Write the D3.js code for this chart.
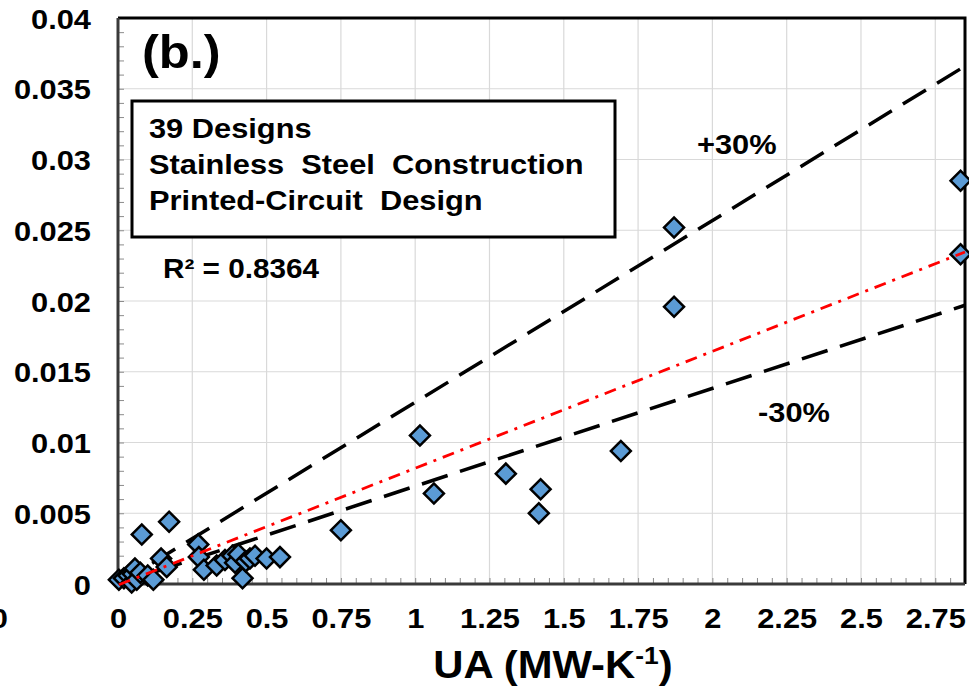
<!DOCTYPE html>
<html>
<head>
<meta charset="utf-8">
<script src="https://cdn.jsdelivr.net/npm/d3@7"></script>
<style>
  body { margin: 0; background: #fff; }
  text { font-family: "Liberation Sans", Arial, sans-serif; font-weight: bold; fill: #000; }
</style>
</head>
<body>
<div id="chart"></div>
<script>
// UA of each design (MW/K) and the y value
const uaValues = [2.835, 2.835, 1.871, 1.871, 1.692, 1.016, 1.063, 1.305, 1.422, 1.416, 0.750,
    0.003, 0.020, 0.035, 0.046, 0.050, 0.057, 0.063, 0.075, 0.080, 0.100, 0.119, 0.145, 0.164, 0.172,
    0.270, 0.272, 0.289, 0.332, 0.360, 0.385, 0.394, 0.405, 0.419, 0.430, 0.444, 0.461, 0.500, 0.545];
const yValues = [0.0285, 0.0233, 0.0252, 0.0196, 0.0094, 0.0105, 0.0064, 0.0078, 0.0067, 0.0050, 0.0038,
    0.0003, 0.0004, 0.0006, 0.0001, 0.0007, 0.0011, 0.0003, 0.0008, 0.0035, 0.0006, 0.0003, 0.0018, 0.0012, 0.0044,
    0.0028, 0.0019, 0.0010, 0.0013, 0.0017, 0.0020, 0.0015, 0.0021, 0.0004, 0.0016, 0.0018, 0.0020, 0.0018, 0.0019];

// reference lines, as [x, y] end points
const plus30 = [[0, 0], [2.85, 0.0366]];
const minus30 = [[0, 0], [2.85, 0.0197]];
const trendLine = [[0.003, -0.00005], [2.85, 0.02346]];

const xTicks = [0, 0.25, 0.5, 0.75, 1, 1.25, 1.5, 1.75, 2, 2.25, 2.5, 2.75];
const xTickLabels = ["0", "0.25", "0.5", "0.75", "1", "1.25", "1.5", "1.75", "2", "2.25", "2.5", "2.75"];
const yTicks = [0, 0.005, 0.01, 0.015, 0.02, 0.025, 0.03, 0.035, 0.04];
const yTickLabels = ["0", "0.005", "0.01", "0.015", "0.02", "0.025", "0.03", "0.035", "0.04"];
const infoLines = ["39 Designs", "Stainless  Steel  Construction", "Printed-Circuit  Design"];

const W = 969, H = 692;
const stretch = "scale(1.1,1)";   // the source text is slightly wide

const svg = d3.select("#chart").append("svg")
    .attr("width", W).attr("height", H);
svg.append("rect").attr("width", W).attr("height", H).attr("fill", "#fff");

const x = d3.scaleLinear().domain([0, 2.85]).range([118, 965]);
const y = d3.scaleLinear().domain([0, 0.04]).range([584, 18]);

// grid
svg.append("g").selectAll("line")
    .data(xTicks.slice(1))
    .enter().append("line")
    .attr("x1", d => x(d)).attr("x2", d => x(d))
    .attr("y1", y(0)).attr("y2", y(0.04))
    .attr("stroke", "#d9d9d9").attr("stroke-width", 1.2);
svg.append("g").selectAll("line")
    .data(yTicks.slice(1))
    .enter().append("line")
    .attr("x1", x(0)).attr("x2", x(2.85))
    .attr("y1", d => y(d)).attr("y2", d => y(d))
    .attr("stroke", "#d9d9d9").attr("stroke-width", 1.2);

// minor ticks, pointing inward
const xMinor = d3.range(0, 2.851, 0.05);
const yMinor = d3.range(0, 0.0401, 0.001);
svg.append("g")
    .attr("transform", `translate(0,${y(0)})`)
    .call(d3.axisBottom(x).tickValues(xMinor).tickSize(-6).tickFormat(""))
    .call(g => g.select(".domain").remove())
    .selectAll("line").attr("stroke", "#8c8c8c");
svg.append("g")
    .attr("transform", `translate(${x(0)},0)`)
    .call(d3.axisLeft(y).tickValues(yMinor).tickSize(-6).tickFormat(""))
    .call(g => g.select(".domain").remove())
    .selectAll("line").attr("stroke", "#8c8c8c");

// tick labels
svg.append("g")
    .attr("transform", `translate(0,${y(0)})`)
    .call(d3.axisBottom(x).tickValues(xTicks).tickSize(0).tickFormat((d, i) => xTickLabels[i]))
    .call(g => g.select(".domain").remove())
    .selectAll("text")
    .attr("y", 0).attr("dy", null)
    .attr("transform", `translate(0,44) ${stretch}`)
    .style("font-size", "28px").style("font-family", "'Liberation Sans', Arial, sans-serif");
svg.append("g")
    .attr("transform", `translate(${x(0)},0)`)
    .call(d3.axisLeft(y).tickValues(yTicks).tickSize(0).tickFormat((d, i) => yTickLabels[i]))
    .call(g => g.select(".domain").remove())
    .selectAll("text")
    .attr("x", 0).attr("dy", "0.36em")
    .attr("transform", `translate(-27,0) ${stretch}`)
    .style("font-size", "28px").style("font-family", "'Liberation Sans', Arial, sans-serif");

// stray label from the neighbouring panel, cut by the crop (as in the source)
svg.append("text")
    .attr("text-anchor", "end")
    .attr("transform", `translate(8,628) ${stretch}`)
    .style("font-size", "28px")
    .text("0");

// frame
svg.append("path")
    .attr("d", `M${x(0)},${y(0.04)}H${x(2.85)}V${y(0)}`)
    .attr("fill", "none").attr("stroke", "#000").attr("stroke-width", 3);
svg.append("path")
    .attr("d", `M${x(0)},${y(0.04)}V${y(0)}H${x(2.85)}`)
    .attr("fill", "none").attr("stroke", "#3a3a3a").attr("stroke-width", 3);

// info box
svg.append("rect")
    .attr("x", 132).attr("y", 101).attr("width", 483).attr("height", 136)
    .attr("fill", "#fff").attr("stroke", "#000").attr("stroke-width", 3);
svg.append("g").selectAll("text")
    .data(infoLines)
    .enter().append("text")
    .attr("transform", (d, i) => `translate(149,${138 + i * 36}) ${stretch}`)
    .style("font-size", "28px").style("white-space", "pre")
    .text(d => d);

svg.append("text")
    .attr("transform", `translate(142,68) ${stretch}`)
    .style("font-size", "46px")
    .text("(b.)");
svg.append("text")
    .attr("transform", `translate(163,278) ${stretch}`)
    .style("font-size", "27px")
    .text("R² = 0.8364");
svg.append("text")
    .attr("transform", `translate(697,154) ${stretch}`)
    .style("font-size", "28px")
    .text("+30%");
svg.append("text")
    .attr("transform", `translate(758,422) ${stretch}`)
    .style("font-size", "28px")
    .text("-30%");

// dashed +/-30% lines
const line = d3.line().x(d => x(d[0])).y(d => y(d[1]));
svg.append("g").selectAll("path")
    .data([plus30, minus30])
    .enter().append("path")
    .attr("d", line)
    .attr("fill", "none").attr("stroke", "#000")
    .attr("stroke-width", 3.5).attr("stroke-dasharray", "27,13");

// design points
const points = uaValues.map((u, i) => [u, yValues[i]]);
svg.append("g").selectAll("path")
    .data(points)
    .enter().append("path")
    .attr("d", d3.symbol().type(d3.symbolSquare).size(200))
    .attr("transform", d => `translate(${x(d[0])},${y(d[1])}) rotate(45)`)
    .attr("fill", "#5b9bd5").attr("stroke", "#000").attr("stroke-width", 2.5);

// linear trend line
svg.append("path")
    .attr("d", line(trendLine))
    .attr("fill", "none").attr("stroke", "#ff0000")
    .attr("stroke-width", 2.8).attr("stroke-dasharray", "12,7,3,7");

// axis title
const title = svg.append("text")
    .attr("text-anchor", "middle")
    .attr("transform", `translate(553,678) ${stretch}`)
    .style("font-size", "38px");
title.append("tspan").text("UA (MW-K");
title.append("tspan").attr("dy", -14).style("font-size", "24px").text("-1");
title.append("tspan").attr("dy", 14).text(")");
</script>
</body>
</html>
